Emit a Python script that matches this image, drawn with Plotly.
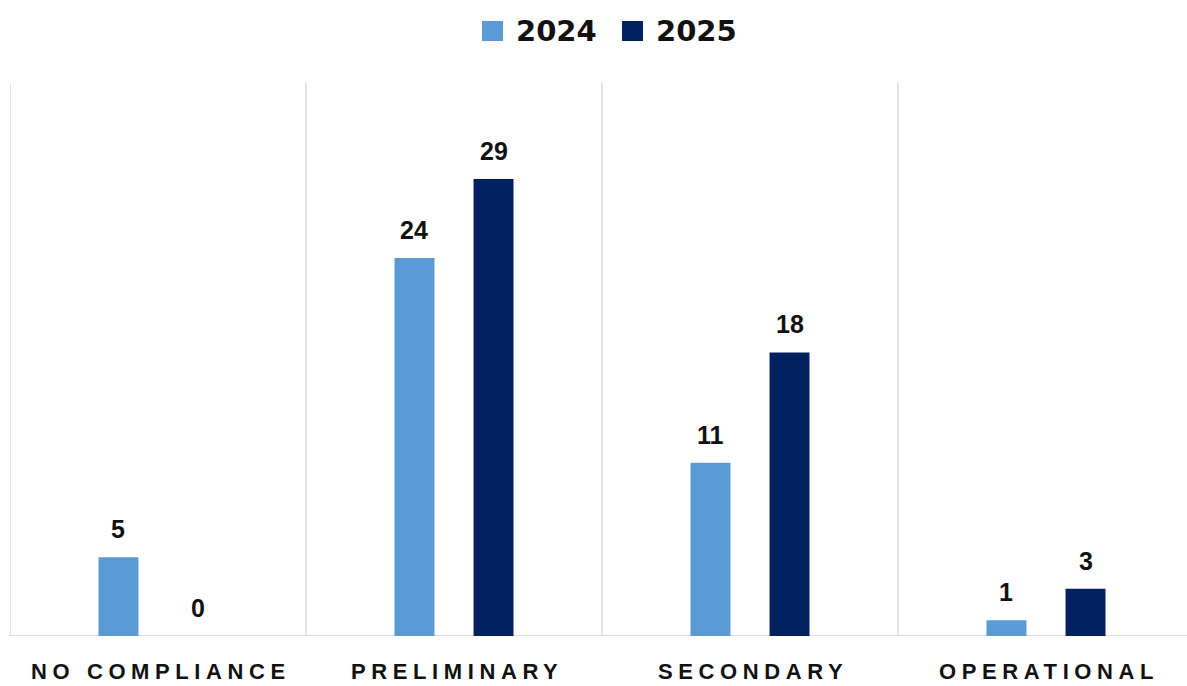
import plotly.graph_objects as go

categories = ["NO COMPLIANCE", "PRELIMINARY", "SECONDARY", "OPERATIONAL"]
series_names = ["2024", "2025"]
values_2024 = [5, 24, 11, 1]
values_2025 = [0, 29, 18, 3]
colors = ["#5B9BD5", "#002060"]

BAR_W = 0.135
offsets = [-0.201, 0.066]
xs = list(range(len(categories)))

fig = go.Figure()
for name, vals, col, off in zip(series_names, [values_2024, values_2025], colors, offsets):
    fig.add_trace(go.Bar(
        x=xs, y=vals, name=name, width=BAR_W, offset=off,
        marker=dict(color=col, line=dict(width=0)), showlegend=False,
    ))
    for xi, v in zip(xs, vals):
        fig.add_annotation(x=xi + off + BAR_W / 2, y=v, text=f"<b>{v}</b>",
                           showarrow=False, yshift=28, yanchor="middle",
                           font=dict(size=25, color="#111111", family="Liberation Sans, Arial"))

# category labels
for xi, c in zip(xs, categories):
    fig.add_annotation(x=xi, y=0, yref="paper", text=f'<b><span style="letter-spacing:5.6px">{c}</span></b>',
                       showarrow=False, yshift=-35, xshift=3, yanchor="middle",
                       font=dict(size=22, color="#111111", family="Liberation Sans, Arial"))

# vertical separators
for xb in [-0.5, 0.5, 1.5, 2.5, 3.5]:
    fig.add_shape(type="line", x0=xb, x1=xb, y0=0, y1=1, xref="x", yref="paper",
                  line=dict(color="#dadada", width=1.5), layer="below")
# baseline
fig.add_shape(type="line", x0=0, x1=1, y0=0, y1=0, xref="paper", yref="y",
              line=dict(color="#d0d0d0", width=1.5), layer="below")

# legend (custom)
leg = [(0.4010, 0.4189, 0.4282), (0.5200, 0.5378, 0.5472)]
for (x0, x1, xt), name, col in zip(leg, series_names, colors):
    fig.add_shape(type="rect", x0=x0, x1=x1, y0=1.0759, y1=1.1121, xref="paper", yref="paper",
                  fillcolor=col, line=dict(width=0))
    fig.add_annotation(x=xt, y=1.094, xref="paper", yref="paper", text=f"<b>{name}</b>",
                       showarrow=False, xanchor="left", yanchor="middle",
                       font=dict(size=29, color="#111111", family="DejaVu Sans"))

fig.update_layout(
    width=1187, height=686,
    margin=dict(l=10, r=0, t=83, b=50),
    plot_bgcolor="white", paper_bgcolor="white",
    barmode="overlay",
    xaxis=dict(range=[-0.5, -0.5 + 1177 / 296], showgrid=False, zeroline=False,
               showticklabels=False, ticks=""),
    yaxis=dict(range=[0, 35.1], showgrid=False, zeroline=False, showticklabels=False, ticks=""),
)

fig.write_html("out.html")
